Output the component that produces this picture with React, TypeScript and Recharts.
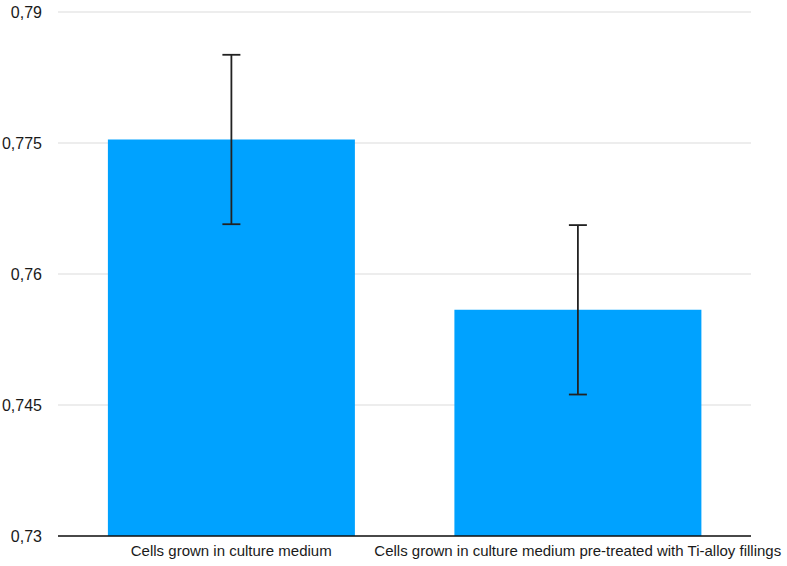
import { BarChart, Bar, XAxis, YAxis, CartesianGrid, ErrorBar } from 'recharts';

const categories = [
  'Cells grown in culture medium',
  'Cells grown in culture medium pre-treated with Ti-alloy fillings',
];
const values = [0.7754, 0.7559];
const errors = [0.0097, 0.0097];
const yTicks = [0.73, 0.745, 0.76, 0.775, 0.79];

const chartData = categories.map((name, i) => ({
  name,
  value: values[i],
  err: errors[i],
}));

export default function App() {
  return (
    <div style={{ position: 'absolute', left: 0, top: 0, fontFamily: '"Liberation Sans", Arial, sans-serif' }}>
      <BarChart
        width={787}
        height={566}
        data={chartData}
        margin={{ top: 12, right: 36, left: 0, bottom: 0 }}
        barCategoryGap="14.4%"
      >
        <CartesianGrid vertical={false} stroke="#dcdcdc" strokeWidth={1.2} />
        <XAxis
          dataKey="name"
          height={30}
          axisLine={{ stroke: '#111', strokeWidth: 1.5 }}
          tickLine={false}
          tickMargin={3}
          tick={{ fill: '#1a1a1a', fontSize: 15 }}
          interval={0}
        />
        <YAxis
          width={58}
          domain={[0.73, 0.79]}
          ticks={yTicks}
          axisLine={false}
          tickLine={false}
          tickSize={0}
          tickMargin={16}
          tick={{ fill: '#1a1a1a', fontSize: 16 }}
          tickFormatter={(v: number) => String(v).replace('.', ',')}
          allowDataOverflow
        />
        <Bar dataKey="value" fill="#00A2FF" isAnimationActive={false}>
          <ErrorBar dataKey="err" width={9} stroke="#222" strokeWidth={1.8} />
        </Bar>
      </BarChart>
    </div>
  );
}
